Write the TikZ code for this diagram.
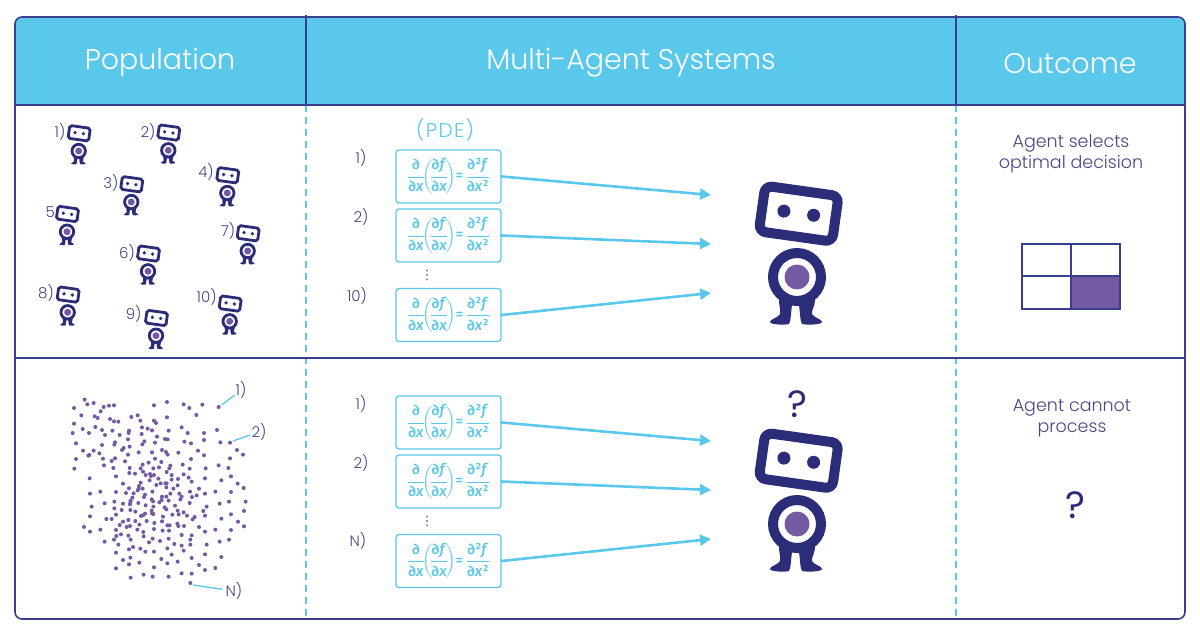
\documentclass[tikz,border=0pt]{standalone}
\usepackage{amsmath}
\usepackage{fontspec}
\setmainfont{Poppins}[UprightFont=* Light]
\newfontfamily\askfont{Poppins}
\newfontfamily\symfont{DejaVu Sans}
\newfontfamily\eqfont{Fira Sans}[UprightFont=* Medium,ItalicFont=* Medium Italic]
\usepackage{tikz}
\usetikzlibrary{arrows.meta,positioning,calc}
\definecolor{headblue}{HTML}{5AC8EA}
\definecolor{framenavy}{HTML}{3A3E8E}
\definecolor{robotnavy}{HTML}{2B2D78}
\definecolor{textnavy}{HTML}{4A4587}
\definecolor{agentpurple}{HTML}{7459A3}
% one robot: body centre x, y, scale
\newcommand{\robot}[3]{%
  \begin{scope}[shift={(#1,#2)},scale=#3]
    \fill[robotnavy] (-18,22) .. controls (-18,30) and (-16,34) .. (-17,37)
      .. controls (-19,41) and (-27,42) .. (-27,45) .. controls (-27,48) and (-10,48) .. (-8,47)
      .. controls (-6,44) and (-6,34) .. (-5,28) -- (2,28)
      .. controls (3,34) and (3,44) .. (5,47) .. controls (8,48) and (25,48) .. (25,45)
      .. controls (25,42) and (17,41) .. (15,37) .. controls (14,34) and (18,30) .. (18,22) -- cycle;
    \draw[robotnavy,fill=white,line width=#3*10pt] (0,0) circle (24);
    \fill[agentpurple] (0,0) circle (12.5);
    \begin{scope}[shift={(1.7,-63.3)},rotate=-8]
      \draw[robotnavy,fill=white,line width=#3*10pt,rounded corners=#3*7pt] (-37,-23) rectangle (37,23);
      \fill[robotnavy] (-15,-0.5) circle (6.5) (15,-0.5) circle (6.5);
    \end{scope}
  \end{scope}}
\newcommand{\pdfrac}[2]{\genfrac{}{}{0.9pt}{}{\text{\eqfont #1}}{\text{\eqfont #2}}}
\newcommand{\pdeq}{$\displaystyle\pdfrac{∂}{∂\textit{x}}\!\!\left(\!\pdfrac{∂\textit{f}}{∂\textit{x}}\!\right)\!\!\text{\eqfont\,=\,}\pdfrac{∂²\textit{f}}{∂\textit{x}²}$}

\begin{document}
\begin{tikzpicture}[x=1pt,y=-1pt,
  frame/.style={draw=framenavy,line width=1.6pt},
  divider/.style={draw=headblue,line width=1.3pt,dash pattern=on 7pt off 5pt},
  headtext/.style={text=white,font=\fontsize{28.5}{32}\selectfont},
  pdebox/.style={draw=headblue,line width=1.3pt,rounded corners=3pt,minimum width=105pt,minimum height=53pt,inner sep=0pt,text=headblue,font=\fontsize{15}{17}\selectfont\boldmath},
  numlabel/.style={text=textnavy,inner sep=1pt,font=\fontsize{15}{17}\selectfont},
  outcometext/.style={text=textnavy,align=center,font=\fontsize{17.5}{20.5}\selectfont},
  arrow/.style={-{Stealth[length=11pt,width=11pt,inset=0pt]},draw=headblue,line width=2.6pt,shorten <=-1pt},
  callout/.style={draw=headblue,line width=1.3pt}
]
  \useasboundingbox (0,0) rectangle (1200,639);
  \fill[white] (0,0) rectangle (1200,639);
  % header band and table
  \fill[headblue,rounded corners=7pt] (15,60) -- (15,17) -- (1185,17) -- (1185,60) [sharp corners] -- (1185,105) -- (15,105) -- cycle;
  \path[divider] (306,105) -- (306,619);
  \path[divider] (956,105) -- (956,619);
  \draw[frame] (306,15) -- (306,105);
  \draw[frame] (956,15) -- (956,105);
  \draw[frame] (15,105) -- (1185,105);
  \draw[frame] (15,358) -- (1185,358);
  \draw[frame,rounded corners=7pt] (15,17) rectangle (1185,619);
  \node[headtext] (population) at (160,62) {Population};
  \node[headtext] (mas) at (631,63) {Multi-Agent Systems};
  \node[headtext] (outcome) at (1070,64) {Outcome};

  % small robots of the first row
  \foreach \rx/\ry/\lx/\ly/\ltext [count=\ri] in {78.7/151/60/131.7/1),168.3/150.3/148/131.7/2),131.3/202/111/182.7/3),227.3/193/206/171.7/4),67/231.7/50.3/212/5,148/271.3/127/253/6),247.7/251/228/231/7),67.7/312.3/46/292.7/8),156/335.7/133.7/314/9),229.7/321.3/206.7/296.7/10)}{
    \robot{\rx}{\ry}{0.28}
    \node[numlabel] (agent\ri) at (\lx,\ly) {\ltext};
  }

  % PDE boxes
  \node[text=headblue,inner sep=0pt,font=\fontsize{20}{22}\selectfont\addfontfeature{LetterSpace=7}] (pde) at (445,130) {(PDE)};
  \foreach \boxid/\boxy/\ltext/\lx/\ly in {a/176.5/1)/361/158,b/235.5/2)/361/217,c/315/10)/357/296,d/422.5/1)/361/404,e/481.5/2)/361/463,f/561/N)/358/541}{
    \node[pdebox] (box\boxid) at (448.5,\boxy) {\pdeq};
    \node[numlabel] (num\boxid) at (\lx,\ly) {\ltext};
  }
  \node[text=textnavy,inner sep=0pt,font=\symfont\fontsize{13}{14}\selectfont] (vdotsa) at (427,275) {⋮};
  \node[text=textnavy,inner sep=0pt,font=\symfont\fontsize{13}{14}\selectfont] (vdotsb) at (427,521) {⋮};

  % arrows to the big robots
  \coordinate (ina) at (711,195);
  \coordinate (inb) at (711,244);
  \coordinate (inc) at (711,293);
  \coordinate (ind) at (711,441);
  \coordinate (ine) at (711,490);
  \coordinate (inf) at (711,539);
  \foreach \boxid in {a,b,c,d,e,f}
    \draw[arrow] (box\boxid.east) -- (in\boxid);
  \robot{797}{277}{1}
  \robot{797}{524}{1}
  \node[text=robotnavy,font=\askfont\fontsize{38}{40}\selectfont] (askrobot) at (797,404) {?};

  % crowd of agents
  \begin{scope}[shift={(50,380)},scale=1/3]
    \foreach \dx/\dy in {104/59,112/73,131/69,72/84,161/81,177/77,192/76,152/94,312/76,351/66,401/73,418/84,457/74,506/81,
      94/106,134/109,143/114,180/117,192/124,205/125,244/111,263/106,271/122,351/112,439/105,312/122,318/129,
      72/131,98/147,117/159,136/141,156/150,165/165,187/152,209/165,237/152,236/159,276/142,275/162,293/146,306/151,356/152,321/170,395/142,413/159,462/159,501/150,68/159,
      78/190,156/195,195/187,193/194,234/178,283/184,277/193,315/188,345/177,353/178,403/185,423/190,462/180,511/187,540/188,
      99/212,131/212,115/227,118/225,148/220,216/210,221/204,239/200,266/217,306/217,336/210,348/216,353/224,385/218,444/212,462/226,561/210,579/224,
      78/237,159/236,195/235,185/243,234/224,225/244,315/236,334/246,296/248,278/254,361/257,358/265,423/237,398/254,540/235,
      73/266,162/256,190/264,239/264,238/279,255/281,272/265,279/275,310/265,327/262,350/276,287/285,300/282,303/288,312/285,365/285,401/283,419/266,467/265,506/256,535/264,
      119/295,198/289,325/296,299/301,272/308,219/311,332/310,346/310,350/310,365/299,384/297,416/293,425/305,465/295,514/301,543/289,563/311,
      120/341,151/335,198/336,237/325,228/339,267/318,266/326,278/326,263/331,319/315,349/322,370/326,383/316,447/326,420/335,465/341,496/335,543/336,581/324,
      285/344,282/351,251/340,247/353,242/362,307/335,336/350,349/350,361/341,388/341,395/350,391/358,426/351,440/346,164/370,193/365,219/371,241/366,240/373,265/369,305/358,309/364,335/360,328/367,356/362,587/365,537/365,509/371,
      125/380,193/385,215/390,241/390,256/395,287/376,310/380,344/382,349/388,375/377,419/369,383/392,401/397,470/380,460/393,582/393,305/392,306/400,310/402,285/401,279/406,273/408,
      120/409,169/417,185/417,198/404,219/425,235/420,256/423,290/423,313/429,339/410,336/424,367/404,386/403,411/407,434/411,428/418,465/407,514/416,543/403,564/425,582/439,
      102/441,120/455,151/449,198/450,209/435,230/441,240/438,268/434,262/449,312/447,338/452,352/436,359/436,382/431,385/438,402/438,447/441,465/455,496/449,543/450,
      213/463,199/468,192/479,164/485,235/467,242/479,280/456,281/469,308/476,330/483,356/476,357/452,395/465,425/466,421/479,470/494,509/485,537/479,
      205/494,249/501,237/508,271/506,286/515,312/515,297/487,373/492,395/497,421/494,352/505,401/512,465/523,514/531,
      198/518,219/540,241/533,237/553,268/548,334/537,365/524,352/550,383/545,425/534,447/555,465/570,496/564,
      198/565,312/562,281/584,242/593,308/590,356/590,395/580,425/581,421/609}
      \fill[agentpurple] (\dx,\dy) circle (6);
  \end{scope}
  \node[numlabel] (crowdone) at (241,390) {1)};
  \node[numlabel] (crowdtwo) at (259,432) {2)};
  \node[numlabel] (crowdn) at (234,591) {N)};
  \coordinate (dotone) at (221.7,405);
  \coordinate (dottwo) at (233,441);
  \coordinate (dotn) at (193,585);
  \draw[callout] (dotone) -- (crowdone);
  \draw[callout] (dottwo) -- (crowdtwo);
  \draw[callout,shorten >=2pt] (dotn) -- (crowdn);

  % outcome column
  \node[outcometext] (selects) at (1071,154) {Agent selects\\optimal decision};
  \node[outcometext] (cannot) at (1072,418) {Agent cannot\\process};
  \fill[agentpurple] (1071,276) rectangle (1120,309);
  \draw[draw=framenavy,line width=1.3pt] (1022,244) rectangle (1120,309) (1071,244) -- (1071,309) (1022,276) -- (1120,276);
  \node[text=robotnavy,font=\askfont\fontsize{38}{40}\selectfont] (askoutcome) at (1075,505) {?};
\end{tikzpicture}
\end{document}
